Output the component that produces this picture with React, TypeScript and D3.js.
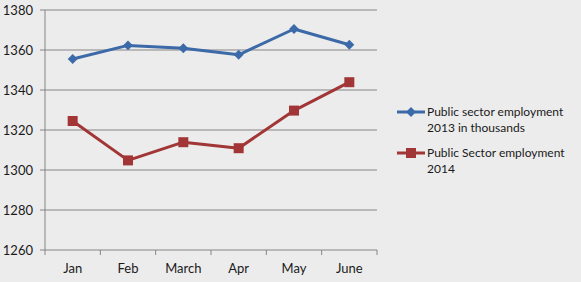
import React from "react";
import * as d3 from "d3";

const months = ["Jan", "Feb", "March", "Apr", "May", "June"];
const emp2013 = [1355.5, 1362.3, 1360.9, 1357.6, 1370.5, 1362.6];
const emp2014 = [1324.5, 1304.8, 1313.9, 1310.9, 1329.7, 1343.9];
const yTicks = [1260, 1280, 1300, 1320, 1340, 1360, 1380];
const seriesNames = [
  ["Public sector employment", "2013 in thousands"],
  ["Public Sector employment", "2014"],
];

const W = 581, H = 282;
const left = 45, right = 377, top = 10, bottom = 250;
const font = "Lato, 'Open Sans', sans-serif";
const blue = "#3c6aa8";
const red = "#a23636";

export default function App() {
  const x = d3.scaleBand<string>().domain(months).range([left, right]);
  const y = d3.scaleLinear().domain([1260, 1380]).range([bottom, top]);
  const line = d3
    .line<number>()
    .x((_, i) => (x(months[i]) as number) + x.bandwidth() / 2)
    .y((d) => y(d));
  const cx = (i: number) => (x(months[i]) as number) + x.bandwidth() / 2;
  const xEdges = months.map((m) => x(m) as number).concat([right]);

  return (
    <svg width={W} height={H} style={{ position: "absolute", left: 0, top: 0, background: "#ececec" }}>
      <rect x={0} y={0} width={W} height={H} fill="#ececec" />
      {yTicks.map((t) => (
        <g key={t}>
          <line x1={left - 5} x2={right} y1={y(t)} y2={y(t)} stroke="#858585" strokeWidth={1} />
          <text x={33} y={y(t) + 4.5} textAnchor="end" fontFamily={font} fontSize={13} fill="#1a1a1a">
            {t}
          </text>
        </g>
      ))}
      <line x1={left} x2={left} y1={top} y2={bottom} stroke="#858585" strokeWidth={1} />
      {xEdges.map((e, i) => (
        <line key={i} x1={e} x2={e} y1={bottom} y2={bottom + 5} stroke="#858585" strokeWidth={1} />
      ))}
      {months.map((m, i) => (
        <text key={m} x={cx(i)} y={273} textAnchor="middle" fontFamily={font} fontSize={13} fill="#1a1a1a">
          {m}
        </text>
      ))}
      <path d={line(emp2013) || ""} fill="none" stroke={blue} strokeWidth={3} strokeLinejoin="round" />
      {emp2013.map((v, i) => (
        <rect key={i} x={cx(i) - 3.5} y={y(v) - 3.5} width={7} height={7} fill={blue}
          transform={`rotate(45 ${cx(i)} ${y(v)})`} />
      ))}
      <path d={line(emp2014) || ""} fill="none" stroke={red} strokeWidth={3} strokeLinejoin="round" />
      {emp2014.map((v, i) => (
        <rect key={i} x={cx(i) - 5} y={y(v) - 5} width={10} height={10} fill={red} />
      ))}
      <g>
        <line x1={397} x2={425} y1={112} y2={112} stroke={blue} strokeWidth={3} />
        <rect x={407.5} y={108.5} width={7} height={7} fill={blue} transform="rotate(45 411 112)" />
        <text x={427} y={116} fontFamily={font} fontSize={12} fill="#1a1a1a">{seriesNames[0][0]}</text>
        <text x={427} y={132} fontFamily={font} fontSize={12} fill="#1a1a1a">{seriesNames[0][1]}</text>
        <line x1={397} x2={425} y1={153} y2={153} stroke={red} strokeWidth={3} />
        <rect x={406} y={148} width={10} height={10} fill={red} />
        <text x={427} y={157} fontFamily={font} fontSize={12} fill="#1a1a1a">{seriesNames[1][0]}</text>
        <text x={427} y={173} fontFamily={font} fontSize={12} fill="#1a1a1a">{seriesNames[1][1]}</text>
      </g>
    </svg>
  );
}
